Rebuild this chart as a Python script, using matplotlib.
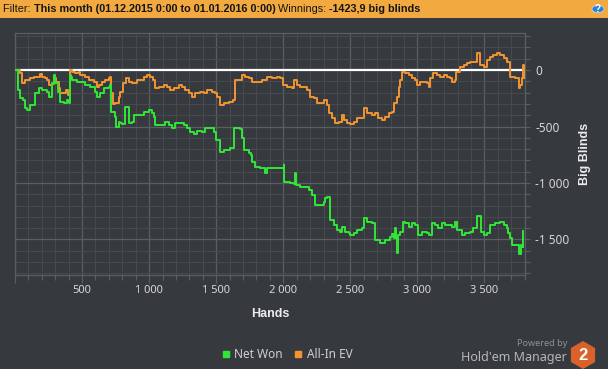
import numpy as np
import matplotlib
matplotlib.use("Agg")
import matplotlib.pyplot as plt
from matplotlib.lines import Line2D
from matplotlib.patches import Rectangle, RegularPolygon, Circle
from matplotlib.ticker import MultipleLocator, FuncFormatter

# -------------------- data --------------------
net_hands = [10, 20, 40, 60, 77, 90, 110, 140, 152, 177, 202, 239, 251, 264, 276, 288,
             301, 318, 333, 363, 388, 400, 408, 418, 425, 462, 525, 562, 599, 611, 636,
             661, 698, 711, 716, 748, 756, 773, 785, 798, 823, 835, 847, 872, 885, 922,
             959, 996, 1021, 1034, 1046, 1083, 1121, 1145, 1170, 1195, 1233, 1257, 1282,
             1307, 1332, 1357, 1394, 1419, 1456, 1481, 1501, 1530, 1555, 1580, 1605, 1625,
             1635, 1680, 1692, 1705, 1742, 1759, 1767, 1791, 1829, 1854, 1866, 1878, 1903,
             1953, 1990, 2002, 2007, 2052, 2077, 2089, 2097, 2122, 2189, 2214, 2238,
             2276, 2301, 2313, 2325, 2338, 2350, 2375, 2400, 2425, 2437, 2462, 2487, 2499,
             2524, 2549, 2586, 2599, 2624, 2661, 2686, 2723, 2760, 2797, 2810, 2822, 2830,
             2840, 2847, 2855, 2872, 2889, 2909, 2934, 2959, 2984, 3008, 3033, 3071, 3083,
             3108, 3133, 3157, 3182, 3207, 3232, 3257, 3282, 3294, 3331, 3356, 3394, 3418,
             3443, 3461, 3473, 3493, 3518, 3543, 3580, 3617, 3642, 3667, 3679, 3692, 3704,
             3729, 3754, 3766, 3774, 3784, 3791]
net_won = [0, -177, -251, -266, -340, -354, -310, -310, -207, -156, -177, -192, -236, -236,
           -118, -44, -118, -192, -281, -295, -266, -295, -44, -59, -89, -103, -133, -148,
           -192, -236, -207, -162, -148, -133, -369, -413, -502, -458, -472, -481, -325,
           -325, -472, -458, -398, -398, -369, -354, -384, -413, -487, -487, -458, -487,
           -517, -472, -467, -487, -517, -546, -570, -540, -546, -517, -511, -546, -620,
           -723, -709, -709, -694, -688, -517, -523, -605, -709, -738, -753, -812, -856,
           -871, -871, -916, -871, -871, -865, -865, -842, -989, -1004, -1013, -916,
           -1019, -1034, -1063, -1107, -1196, -1196, -1166, -1131, -1122, -1122, -1329,
           -1373, -1417, -1432, -1388, -1432, -1447, -1462, -1447, -1417, -1403, -1308,
           -1344, -1358, -1506, -1535, -1506, -1476, -1456, -1491, -1403, -1491, -1624,
           -1462, -1432, -1344, -1358, -1388, -1358, -1373, -1462, -1432, -1447, -1462,
           -1358, -1373, -1403, -1358, -1373, -1373, -1388, -1344, -1417, -1462, -1447,
           -1432, -1403, -1290, -1290, -1432, -1462, -1447, -1373, -1358, -1344, -1373,
           -1403, -1447, -1491, -1550, -1550, -1633, -1633, -1550, -1565, -1423.9]

ev_hands = [10, 40, 52, 77, 115, 140, 164, 184, 202, 227, 239, 251, 276, 294, 309, 326,
            338, 363, 383, 395, 408, 425, 450, 475, 487, 525, 549, 587, 611, 624, 649,
            673, 698, 711, 718, 731, 748, 773, 785, 805, 830, 847, 872, 909, 934, 959,
            984, 1009, 1029, 1046, 1071, 1108, 1133, 1158, 1183, 1220, 1245, 1270, 1295,
            1319, 1344, 1382, 1406, 1431, 1468, 1493, 1506, 1530, 1555, 1593, 1625, 1642,
            1667, 1692, 1717, 1742, 1767, 1804, 1841, 1878, 1915, 1953, 1978, 1997, 2027,
            2065, 2082, 2102, 2122, 2152, 2176, 2201, 2226, 2251, 2276, 2301, 2325, 2338,
            2363, 2388, 2412, 2437, 2450, 2474, 2499, 2524, 2549, 2574, 2599, 2624, 2661,
            2686, 2710, 2735, 2760, 2785, 2810, 2822, 2847, 2860, 2872, 2884, 2909, 2934,
            2959, 2984, 2996, 3021, 3046, 3071, 3083, 3095, 3120, 3145, 3170, 3195, 3220,
            3245, 3257, 3282, 3289, 3306, 3319, 3344, 3369, 3394, 3418, 3443, 3456, 3468,
            3493, 3518, 3543, 3567, 3592, 3617, 3642, 3667, 3687, 3692, 3729, 3754, 3766,
            3778, 3789, 3793]
all_in_ev = [0, -30, -118, -89, -74, -59, -59, -38, -59, -74, -89, -133, -127, -74, -103,
             -162, -207, -207, -177, -221, 0, -15, -30, -15, -44, -59, -89, -103, -148,
             -133, -103, -89, -74, -59, -207, -304, -295, -236, -192, -118, -68, -103,
             -118, -89, -89, -59, -44, -59, -89, -162, -148, -133, -148, -177, -162, -133,
             -148, -177, -207, -236, -207, -192, -207, -177, -192, -207, -236, -310, -295,
             -281, -266, -89, -89, -44, -59, -74, -103, -103, -89, -59, -74, -59, -74,
             -133, -148, -162, -89, -133, -148, -148, -177, -236, -251, -295, -295, -266,
             -310, -384, -428, -472, -458, -399, -443, -472, -481, -458, -428, -428, -340,
             -384, -399, -384, -428, -443, -413, -384, -369, -295, -236, -148, -89, -15,
             -30, -44, -74, -89, -133, -103, -103, -118, -148, -74, -30, -44, -59, -44,
             -59, -74, -103, -89, -15, -15, 30, 44, 59, 68, 74, 148, 148, 44, 30, 89, 118,
             133, 148, 133, 103, 74, 15, -59, -74, -162, -133, -74, 44, -74]

header_parts = [("Filter: ", "normal"),
                ("This month (01.12.2015 0:00 to 01.01.2016 0:00)", "bold"),
                (" Winnings: ", "normal"),
                ("-1423,9 big blinds", "bold")]

# -------------------- style --------------------
bg = '#36393d'
grid_minor = '#46494e'
grid_major = '#5b5e63'
tick_col = '#d6d7d8'
green = '#30e636'
orange = '#f39431'
ui_font = 'Noto Sans'
bold_font = 'Liberation Sans'

fig = plt.figure(figsize=(6.08, 3.69), dpi=100, facecolor=bg)
ax = fig.add_axes([15 / 608, 1 - 275 / 369, 509.7 / 608, 242 / 369])
ax.set_facecolor(bg)

ax.plot(ev_hands, all_in_ev, color=orange, lw=1.4, zorder=3, drawstyle='steps-post')
ax.plot(net_hands, net_won, color=green, lw=1.4, zorder=4, drawstyle='steps-post')
ax.axhline(0, color='white', lw=1.6, zorder=2)

ax.set_xlim(0, 3800)
ax.set_ylim(-1815, 328)

ax.xaxis.set_major_locator(MultipleLocator(500))
ax.xaxis.set_minor_locator(MultipleLocator(100))
ax.yaxis.set_major_locator(MultipleLocator(500))
ax.yaxis.set_minor_locator(MultipleLocator(100))
ax.yaxis.tick_right()
ax.yaxis.set_label_position('right')


def fmt(v, pos):
    s = '{:,.0f}'.format(abs(v)).replace(',', ' ')
    return ('-' + s) if v < 0 else s


ax.xaxis.set_major_formatter(FuncFormatter(lambda v, p: '' if v == 0 else fmt(v, p)))
ax.yaxis.set_major_formatter(FuncFormatter(fmt))

ax.grid(which='minor', color=grid_minor, lw=0.8, zorder=0)
ax.grid(which='major', color=grid_major, lw=0.9, zorder=0)
ax.set_axisbelow(True)
for sp in ax.spines.values():
    sp.set_color(grid_major)
    sp.set_linewidth(0.9)

ax.tick_params(axis='x', which='major', length=6, width=0.8, color=grid_major,
               labelcolor=tick_col, labelsize=8, pad=1)
ax.tick_params(axis='x', which='minor', length=3.5, width=0.8, color=grid_major)
ax.tick_params(axis='y', which='both', length=3.5, width=0.8, color=grid_major,
               labelcolor=tick_col, labelsize=8.5, pad=4)
for lab in ax.get_xticklabels() + ax.get_yticklabels():
    lab.set_fontfamily(ui_font)

ax.set_xlabel('Hands', color='#ececec', fontsize=9, fontweight='bold',
              family=bold_font, labelpad=9)
ax.set_ylabel('Big Blinds', color='#ececec', fontsize=9, fontweight='bold',
              family=bold_font, labelpad=7)

# -------------------- header bar --------------------
fig.patches.append(Rectangle((0, 1 - 18 / 369), 1, 18 / 369, transform=fig.transFigure,
                             facecolor='#f2aa40', edgecolor='none', zorder=0))
renderer = fig.canvas.get_renderer()
x_pos = 3
for txt, w in header_parts:
    t = fig.text(x_pos / 608, 1 - 9.5 / 369, txt, fontsize=7.8, fontweight=w,
                 family=bold_font, color='#141414', va='center', ha='left')
    x_pos += t.get_window_extent(renderer=renderer).width

fig.patches.append(Circle((598 / 608, 1 - 9 / 369), 6 / 608, transform=fig.transFigure,
                          facecolor='#2c7fd0', edgecolor='#bcd6f0', lw=0.6))
fig.text(598 / 608, 1 - 9.5 / 369, '?', color='white', fontsize=7, fontweight='bold',
         ha='center', va='center', family=bold_font)

# -------------------- legend --------------------
handles = [Line2D([], [], marker='s', ls='none', color=green, markersize=5),
           Line2D([], [], marker='s', ls='none', color=orange, markersize=5)]
leg = fig.legend(handles, ['Net Won', 'All-In EV'], loc='center',
                 bbox_to_anchor=(287 / 608, 1 - 355 / 369), ncol=2, frameon=False,
                 handlelength=0.7, handletextpad=0.4, columnspacing=0.9,
                 prop={'family': ui_font, 'size': 8.5})
for t in leg.get_texts():
    t.set_color('#cfd0d1')

# -------------------- logo --------------------
fig.text(567 / 608, 1 - 344 / 369, 'Powered by', ha='right', va='center',
         fontsize=6.5, color='#8f9195', family=ui_font)
fig.text(567 / 608, 1 - 357 / 369, "Hold'em Manager", ha='right', va='center',
         fontsize=9, color='#b4b6b8', family=ui_font)
lax = fig.add_axes([569 / 608, 0, 28 / 608, 30 / 369])
lax.set_xlim(-14, 14)
lax.set_ylim(-15, 15)
lax.axis('off')
lax.add_patch(RegularPolygon((0, -1), 6, radius=14, orientation=0,
                             facecolor='#d8622a', edgecolor='none'))
lax.text(0, -1.5, '2', color='white', fontsize=12, fontweight='bold',
         ha='center', va='center', family=bold_font)

fig.savefig('out.png', dpi=100, facecolor=bg)
